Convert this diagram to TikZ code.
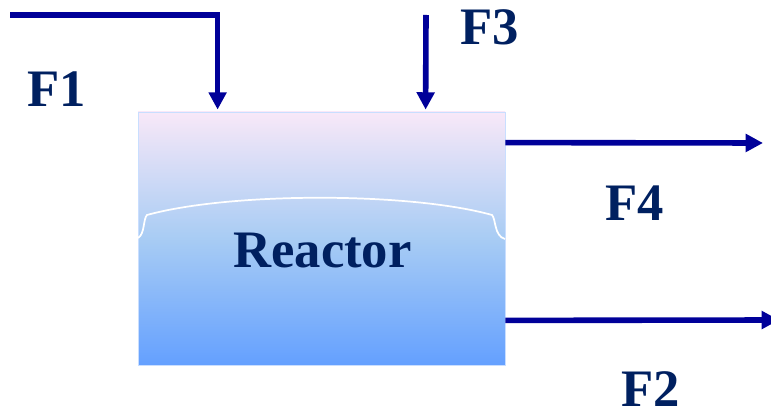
\documentclass[tikz,border=0pt]{standalone}
\usepackage{fontspec}
\setmainfont{Liberation Serif}
\usetikzlibrary{arrows.meta,positioning}
\definecolor{ink}{HTML}{002060}
\definecolor{flow}{HTML}{000099}
\definecolor{gastop}{HTML}{F8E8F8}
\definecolor{liqmid}{HTML}{A8CCF4}
\definecolor{liqbot}{HTML}{64A0FF}
\tikzset{>={Triangle[length=13pt,width=13pt]},
  stream/.style={->,draw=flow,line width=4.2pt},
  tag/.style={text=ink,inner sep=0pt,font=\fontsize{39.5}{42}\selectfont\bfseries},
  vessel/.style={draw=liqbot!35!white,line width=.6pt,top color=gastop,bottom color=liqbot,middle color=liqmid,
    minimum width=275.25pt,minimum height=189.75pt,inner sep=0pt},
  surface/.style={draw=white,line width=1.3pt}}
\begin{document}
\begin{tikzpicture}[x=.75pt,y=-.75pt]
\useasboundingbox(0,0)rectangle(771,413);
\node[vessel](reactor)at(321.5,238.5){};
\draw[surface](138,238)..controls(145,234)and(143,219)..(147,215)..controls(230,192)and(410,192)..(492,215)..controls(496,219)and(494,236)..(505,239);
\node[tag](rlabel)at(322.5,251){Reactor};
\coordinate(f1src)at(10,15);\coordinate(f3src)at(426,15);
\coordinate(f4out)at(763,143);\coordinate(f2out)at(779,320);
\draw[stream,shorten >=1.5pt](f1src)-|([xshift=60pt]reactor.north west);
\draw[stream,shorten >=1.5pt](f3src)--([xshift=216pt]reactor.north west);
\draw[stream]([yshift=-23.25pt]reactor.north east)--(f4out);
\draw[stream]([yshift=33.75pt]reactor.south east)--(f2out);
\node[tag](f1)at(57,89){F1};\node[tag](f3)at(490,27){F3};
\node[tag](f4)at(635,203){F4};\node[tag](f2)at(651,389){F2};
\end{tikzpicture}
\end{document}
